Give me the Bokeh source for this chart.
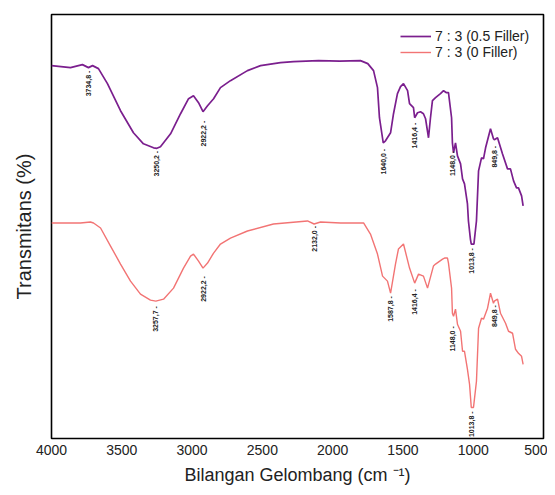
import math
from bokeh.plotting import figure
from bokeh.models import Range1d, FixedTicker, ColumnDataSource, Legend, LegendItem
from bokeh.core.properties import value
from bokeh.embed import file_html
from bokeh.resources import INLINE

# ---- data ----
wn_filler05 = [4000, 3865, 3780, 3737, 3708, 3666, 3602, 3509, 3417, 3346, 3274, 3250.2, 3225,
               3153, 3082, 3025, 2990, 2954, 2922.2, 2890, 2847, 2798, 2727, 2606, 2513, 2371,
               2278, 2100, 1950, 1802, 1750, 1709, 1681, 1667, 1640, 1624, 1588, 1567, 1539,
               1517, 1496, 1467, 1453, 1425, 1416.4, 1396, 1375, 1354, 1339, 1318, 1304, 1290,
               1268, 1233, 1211, 1190, 1176, 1154, 1148, 1140, 1126, 1112, 1090, 1076, 1062,
               1041, 1034, 1020, 1013.8, 995, 977, 962, 941, 927, 912, 877, 856, 849.8, 827,
               792, 756, 735, 713, 692, 678, 656, 645]
t_filler05 = [74.4, 74.0, 74.6, 74.0, 74.4, 73.8, 70.8, 65.4, 61.0, 58.8, 58.0, 57.9, 58.2,
              60.8, 64.8, 67.8, 68.4, 67.0, 65.2, 66.4, 67.8, 70.0, 71.4, 73.4, 74.4, 75.0,
              75.2, 75.4, 75.3, 75.4, 74.8, 73.4, 70.0, 64.0, 59.0, 59.4, 61.0, 64.8, 68.8,
              70.2, 70.8, 69.4, 66.8, 66.0, 64.0, 65.0, 65.2, 64.8, 63.8, 60.0, 64.0, 67.4,
              68.0, 68.8, 69.4, 69.0, 69.0, 64.0, 59.0, 57.0, 59.0, 56.4, 54.8, 51.8, 50.8,
              46.8, 43.4, 39.8, 38.8, 38.8, 43.4, 53.4, 56.0, 55.8, 58.0, 61.8, 59.8, 59.6, 60.0,
              56.8, 53.8, 53.8, 51.4, 50.0, 50.0, 48.4, 46.4]

wn_filler0 = [4000, 3794, 3723, 3701, 3651, 3580, 3509, 3438, 3367, 3296, 3257.7, 3203, 3132,
              3061, 3011, 2990, 2954, 2922.2, 2890, 2847, 2798, 2727, 2606, 2421, 2179, 2132,
              2086, 1944, 1780, 1731, 1681, 1645, 1610, 1587.8, 1553, 1532, 1496, 1453, 1416.4,
              1389, 1354, 1325, 1283, 1268, 1218, 1204, 1183, 1176, 1154, 1148, 1140, 1126,
              1112, 1090, 1076, 1062, 1041, 1026, 1013.8, 998, 977, 962, 941, 927, 898, 877,
              856, 849.8, 827, 806, 770, 749, 720, 699, 678, 656, 645]
t_filler0 = [43.0, 43.0, 43.2, 43.0, 42.0, 38.4, 34.8, 31.4, 28.8, 27.6, 27.4, 27.8, 30.0,
             34.0, 36.4, 36.8, 35.4, 34.0, 35.0, 37.0, 38.8, 40.0, 41.4, 42.8, 43.4, 42.8,
             43.2, 43.0, 43.0, 40.8, 36.8, 32.4, 31.4, 29.0, 34.8, 37.8, 38.8, 34.0, 31.0,
             32.8, 32.4, 30.0, 34.4, 34.8, 35.8, 36.0, 36.0, 35.0, 30.0, 25.0, 24.4, 25.8,
             22.8, 21.4, 17.4, 17.4, 13.8, 10.8, 6.2, 6.2, 11.4, 22.0, 24.0, 23.8, 26.0, 29.0,
             27.0, 27.4, 27.8, 25.0, 23.0, 21.4, 21.0, 17.8, 17.0, 16.4, 14.8]

peak_wn_05 = [3734.8, 3250.2, 2922.2, 1640.0, 1416.4, 1148.0, 1013.8, 849.8]
peak_t_05 = [73.4, 57.4, 63.4, 57.8, 63.0, 57.4, 38.0, 58.4]
peak_text_05 = ["3734,8", "3250,2", "2922,2", "1640,0", "1416,4", "1148,0", "1013,8", "849,8"]

peak_wn_0 = [3257.7, 2922.2, 2132.0, 1587.8, 1416.4, 1148.0, 1013.8, 849.8]
peak_t_0 = [26.4, 32.4, 42.4, 28.4, 29.8, 22.4, 5.4, 26.6]
peak_text_0 = ["3257,7", "2922,2", "2132,0", "1587,8", "1416,4", "1148,0", "1013,8", "849,8"]

x_ticks = [4000, 3500, 3000, 2500, 2000, 1500, 1000, 500]
series_names = ["7 : 3 (0.5 Filler)", "7 : 3 (0 Filler)"]
colors = ["#7b1f8e", "#f27474"]

FONT = "Liberation Sans"

p = figure(width=547, height=487, output_backend="svg", toolbar_location=None,
           x_range=Range1d(4000, 500), y_range=Range1d(0, 84.6),
           min_border_left=51, min_border_right=4, min_border_top=14, min_border_bottom=0)
p.background_fill_color = "white"
p.border_fill_color = "white"
p.xgrid.visible = False
p.ygrid.visible = False
p.outline_line_color = "black"
p.outline_line_width = 1.6
p.outline_line_alpha = 1.0

# x axis
p.xaxis.ticker = FixedTicker(ticks=x_ticks)
p.xaxis.axis_line_color = None
p.xaxis.major_tick_line_color = None
p.xaxis.minor_tick_line_color = None
p.xaxis.major_tick_out = 0
p.xaxis.major_tick_in = 0
p.xaxis.major_label_standoff = 6
p.xaxis.major_label_text_font = FONT
p.xaxis.major_label_text_font_size = "14px"
p.xaxis.major_label_text_color = "#222222"
p.xaxis.axis_label = "Bilangan Gelombang (cm \u207b\u00b9)"
p.xaxis.axis_label_text_font = FONT
p.xaxis.axis_label_text_font_size = "18px"
p.xaxis.axis_label_text_font_style = "normal"
p.xaxis.axis_label_text_color = "#222222"
p.xaxis.axis_label_standoff = 7

# y axis (no ticks)
p.yaxis.ticker = FixedTicker(ticks=[])
p.yaxis.axis_line_color = None
p.yaxis.major_tick_line_color = None
p.yaxis.minor_tick_line_color = None
p.yaxis.major_tick_out = 0
p.yaxis.major_tick_in = 0
p.yaxis.major_label_standoff = 0
p.yaxis.axis_label = "Transmitans (%)"
p.yaxis.axis_label_text_font = FONT
p.yaxis.axis_label_text_font_size = "20px"
p.yaxis.axis_label_text_font_style = "normal"
p.yaxis.axis_label_text_color = "#222222"
p.yaxis.axis_label_standoff = 17

r1 = p.line(wn_filler05, t_filler05, line_color=colors[0], line_width=1.7)
r2 = p.line(wn_filler0, t_filler0, line_color=colors[1], line_width=1.4)

src05 = ColumnDataSource(dict(x=peak_wn_05, y=peak_t_05, t=[s + " -" for s in peak_text_05]))
src0 = ColumnDataSource(dict(x=peak_wn_0, y=peak_t_0, t=[s + " -" for s in peak_text_0]))
for src in (src05, src0):
    p.text(x="x", y="y", text="t", source=src, angle=math.pi / 2,
           text_align="right", text_baseline="middle",
           text_font=value(FONT), text_font_size=value("7px"),
           text_font_style="bold", text_color="#222222")

legend = Legend(items=[LegendItem(label=series_names[0], renderers=[r1]),
                       LegendItem(label=series_names[1], renderers=[r2])],
                location=(349, 378))
legend.border_line_color = None
legend.background_fill_alpha = 0
legend.margin = 0
legend.padding = 2
legend.spacing = 0
legend.glyph_width = 31
legend.glyph_height = 14
legend.label_height = 14
legend.label_standoff = 4
legend.label_text_font = FONT
legend.label_text_font_size = "14px"
legend.label_text_color = "#222222"
p.add_layout(legend)

open("out.html", "w").write(file_html(p, INLINE))
